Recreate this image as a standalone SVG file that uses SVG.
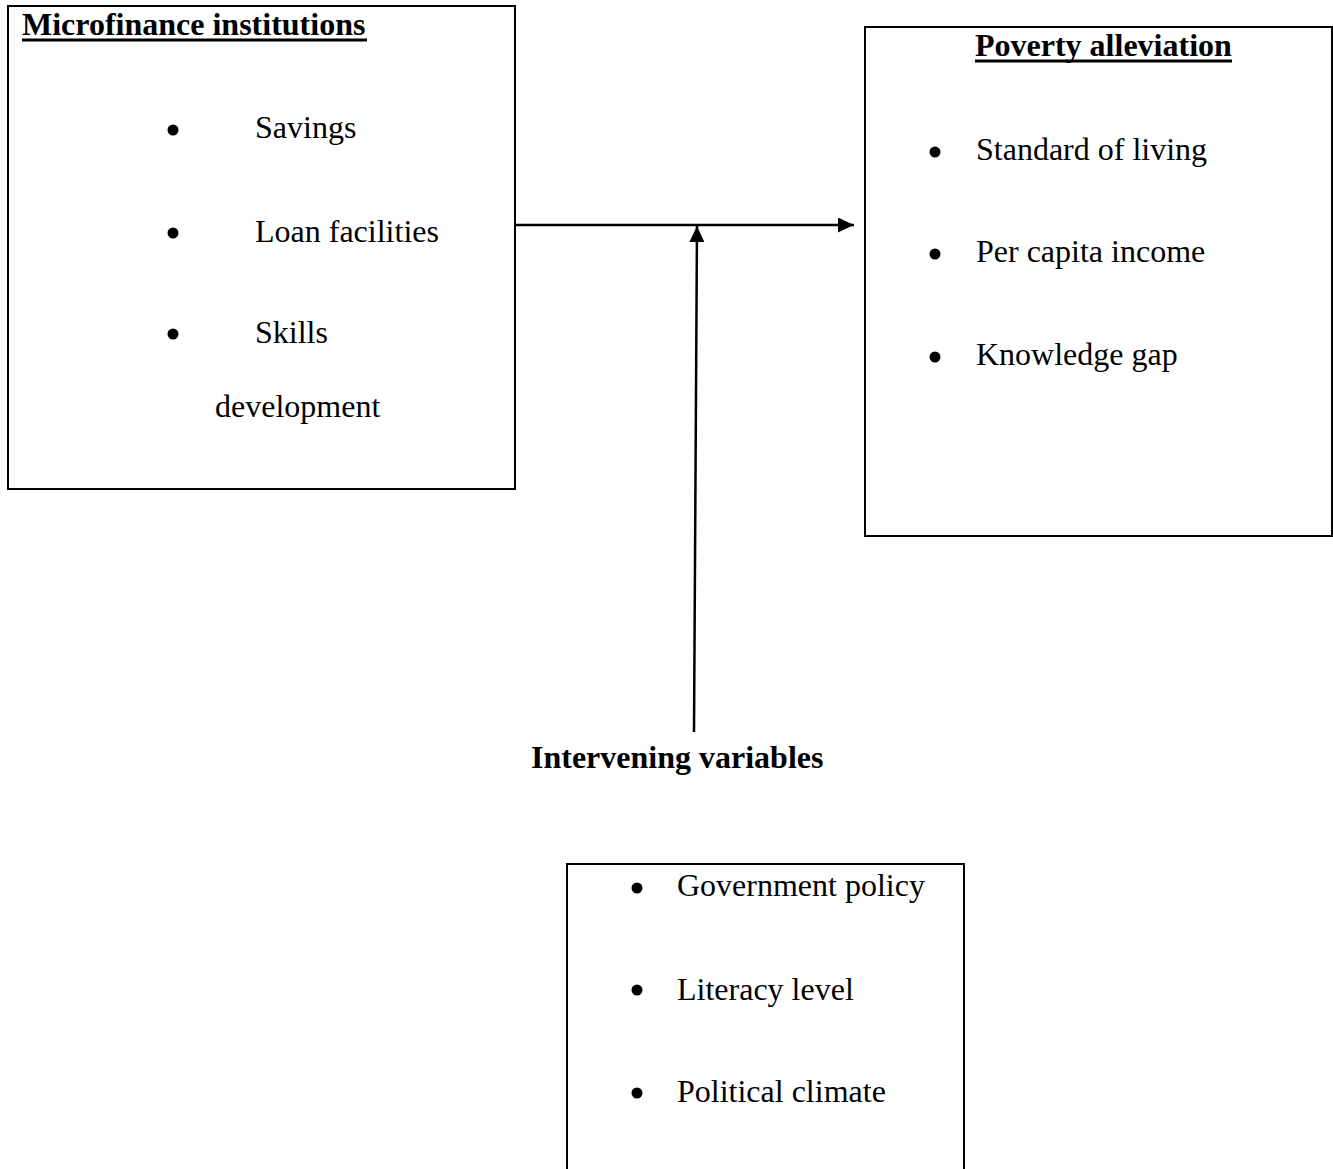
<svg xmlns="http://www.w3.org/2000/svg" width="1333" height="1169" viewBox="0 0 1333 1169">
<style>
.box{fill:none;stroke:#000;stroke-width:2}
.t{font-family:"Liberation Serif","Times New Roman",serif;font-size:32px;fill:#000}
.b{font-weight:bold}
.ul{stroke:#000;stroke-width:3}
.dot{fill:#000}
.conn{stroke:#000;stroke-width:2.5;fill:none}
</style>
<defs>
<marker id="ah" viewBox="0 0 16 15" refX="16" refY="7.5" markerWidth="16" markerHeight="15" markerUnits="userSpaceOnUse" orient="auto">
<path d="M0,0 L16,7.5 L0,15 Z" fill="#000"/>
</marker>
</defs>
<rect width="1333" height="1169" fill="#fff"/>
<g id="microfinance">
<rect class="box" x="8" y="6" width="507" height="483"/>
<text class="t b" x="22" y="35">Microfinance institutions</text>
<line class="ul" x1="22" y1="40" x2="367" y2="40"/>
<circle class="dot" cx="173" cy="130" r="5.5"/>
<text class="t" x="255" y="138">Savings</text>
<circle class="dot" cx="173" cy="233" r="5.5"/>
<text class="t" x="255" y="242">Loan facilities</text>
<circle class="dot" cx="173" cy="334" r="5.5"/>
<text class="t" x="255" y="343">Skills</text>
<text class="t" x="215" y="417">development</text>
</g>
<g id="poverty">
<rect class="box" x="865" y="27" width="467" height="509"/>
<text class="t b" x="975" y="56">Poverty alleviation</text>
<line class="ul" x1="975" y1="61" x2="1232" y2="61"/>
<circle class="dot" cx="935" cy="152" r="5.5"/>
<text class="t" x="976" y="160">Standard of living</text>
<circle class="dot" cx="935" cy="254" r="5.5"/>
<text class="t" x="976" y="262">Per capita income</text>
<circle class="dot" cx="935" cy="357" r="5.5"/>
<text class="t" x="976" y="365">Knowledge gap</text>
</g>
<g id="intervening">
<text class="t b" x="531" y="768">Intervening variables</text>
<path class="box" d="M567,1175 L567,864 L964,864 L964,1175"/>
<circle class="dot" cx="637" cy="888" r="5.5"/>
<text class="t" x="677" y="896">Government policy</text>
<circle class="dot" cx="637" cy="990" r="5.5"/>
<text class="t" x="677" y="1000">Literacy level</text>
<circle class="dot" cx="637" cy="1093" r="5.5"/>
<text class="t" x="677" y="1102">Political climate</text>
</g>
<g id="connectors">
<line class="conn" x1="516" y1="225" x2="854" y2="225" marker-end="url(#ah)"/>
<line class="conn" x1="694" y1="732" x2="697" y2="226" marker-end="url(#ah)"/>
</g>
</svg>
